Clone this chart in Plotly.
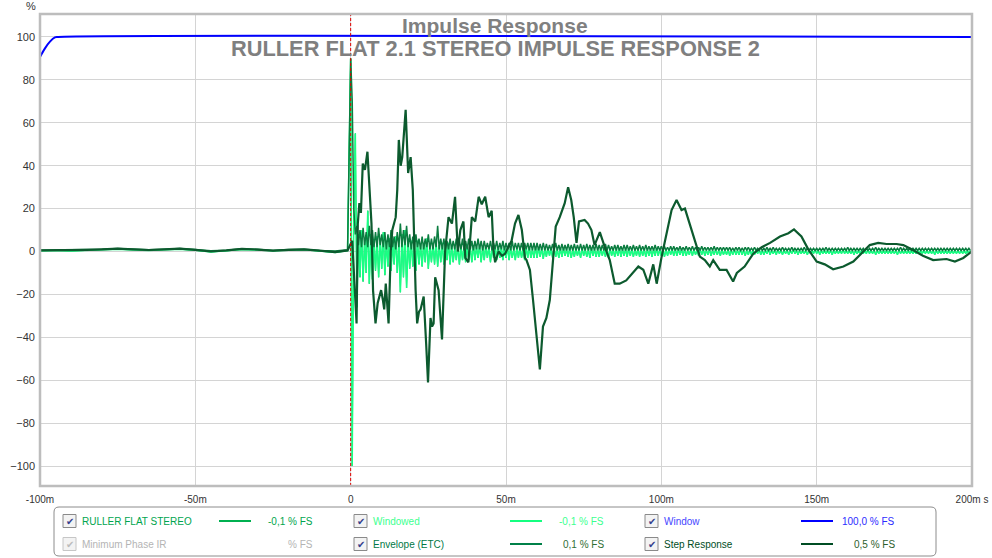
import plotly.graph_objects as go

# ---------------- data (time in ms, level in %FS) ----------------
pre_t = [-100, -95, -90, -85, -80, -75, -70, -65, -60, -55, -50, -45, -40, -35, -30, -25, -20, -15, -10, -5, -1]
imp_pre = [0.3, 0.5, 0.2, 0.6, 0.8, 1.0, 0.7, 0.5, 0.8, 1.0, 0.6, -0.2, 0.3, 0.9, 0.7, 0.3, 0.6, 0.8, 0.2, -0.5, 0.4]
env_pre = [0.6, 0.7, 0.6, 0.9, 1.1, 1.4, 1.1, 0.8, 1.1, 1.4, 0.9, 0.3, 0.6, 1.3, 1.0, 0.5, 0.9, 1.1, 0.5, 0.2, 0.8]
step_pre = [0.5, 0.5, 0.6, 0.8, 1.0, 1.3, 1.0, 0.7, 1.0, 1.3, 0.8, 0.0, 0.5, 1.2, 0.9, 0.4, 0.8, 1.0, 0.4, -0.3, 0.5]

# impulse / envelope samples every 0.5 ms from 0 to 199.5 ms
SAMPLE_START, SAMPLE_STEP = 0.0, 0.5

imp_post = [
    90, -100, 20, 55, -26, 8, -12, 10, -14, 6,
    -10, 19, -15, 8, -13, 5, -9, 7, -12, 6,
    -8, 9, -11, 5, -7, 6, -9, 4, -6, 7,
    -10, 5, -19, 8, -12, 10, -17, 6, -8, 5,
    -7, 4, -9, 5, -6, 3, -7, 4, -5, 6,
    -8, 3, -5, 4, -6, 5, -7, 3, -5, 4,
    -6, 3, -4, 4, -6, 3, -5, 2, -4, 3,
    -6, 3, -4, 2, -5, 3, -4, 2, -5, 3,
    -4, 2, -3, 3, -5, 2, -4, 3, -3, 2,
    -5, 2, -3, 3, -4, 2, -3, 2, -4, 2,
    -3, 2, -4, 2, -3, 1, -4, 2, -3, 2,
    -3, 1, -4, 2, -3, 2, -3, 1, -3, 2,
    -3, 2, -2.5, 1.5, -3.5, 1.5, -2.5, 2, -2, 1.5,
    -3, 1.5, -2.5, 1, -3, 1.5, -2.5, 1.5, -2, 1,
    -2.5, 1.5, -3, 1, -2.5, 1.5, -2, 1, -3, 1.5,
    -2, 1, -2.5, 1, -3, 1.5, -2, 1, -2.5, 1,
    -2.5, 1.5, -2, 1, -2.5, 1, -3, 1.5, -2, 1,
    -2.5, 1, -2, 1.5, -2.5, 1, -2, 1, -2.5, 1.5,
    -2, 1, -2.5, 1, -2, 1.5, -2.5, 1, -2, 1,
    -2.5, 1, -2, 1, -2.5, 1, -2, 1.5, -2, 1,
    -2, 1, -2.5, 1, -2, 1, -1.5, 1, -2, 1,
    -2, 1, -1.5, 1, -2, 1, -2, 0.5, -1.5, 1,
    -2, 1, -1.5, 0.5, -2, 1, -1.5, 1, -2, 0.5,
    -1.5, 1, -2, 0.5, -1.5, 1, -1.5, 0.5, -2, 1,
    -1.5, 0.5, -1.5, 1, -2, 0.5, -1.5, 1, -1.5, 0.5,
    -1.5, 1, -1.5, 0.5, -2, 0.5, -1.5, 1, -1.5, 0.5,
    -1.5, 0.5, -1, 1, -1.5, 0.5, -1.5, 0.5, -1, 1,
    -1.5, 0.5, -1, 0.5, -1.5, 1, -1, 0.5, -1.5, 0.5,
    -1, 0.5, -1.5, 0.5, -1, 1, -1, 0.5, -1.5, 0.5,
    -1, 0.5, -1, 0.5, -1.5, 0.5, -1, 0.5, -1, 1,
    -1, 0.5, -1.5, 0.5, -1, 0.5, -1, 0.5, -1, 0.5,
    -1.5, 0.5, -1, 0.5, -1, 0.5, -1, 1, -1, 0.5,
    -1, 0.5, -1, 0.5, -1.5, 0.5, -1, 0.5, -1, 0.5,
    -1, 0.5, -1, 1, -1, 0.5, -1, 0.5, -1.5, 0.5,
    -1, 0.5, -1, 0.5, -1, 0.5, -1, 0.5, -1, 0.5,
    -1, 0.5, -1.5, 0.5, -1, 0.5, -1, 0.5, -1, 0.5,
    -1, 0.5, -1, 0.5, -1, 0.5, -1, 0.5, -1, 0.5,
    -1, 0.5, -1, 0.5, -1, 0.5, -1.5, 0.5, -1, 0.5,
    -1, 0.5, -1, 0.5, -1, 0.5, -1, 0.5, -1, 0.5,
    -1, 0.5, -1, 0.5, -1, 0.5, -1, 0.5, -1, 0.5,
]
env_post = [
    90, 70, 20, 8, 12, 3, 10, 2, 11, 3,
    9, 2, 12, 3, 10, 2, 9, 2, 11, 3,
    8, 2, 9, 1, 8, 2, 10, 2, 7, 1,
    9, 2, 13, 2, 10, 3, 12, 2, 8, 1,
    7, 1, 8, 2, 6, 1, 7, 1, 6, 2,
    8, 1, 6, 1, 7, 2, 12, 1, 6, 1,
    6, 1, 5, 1, 6, 1, 5, 1, 6, 1,
    5, 1, 6, 0.5, 5, 1, 6, 1, 5, 0.5,
    5, 1, 6, 1, 5, 0.5, 5, 1, 4, 1,
    5, 0.5, 4, 1, 5, 0.5, 4, 1, 5, 0.5,
    4, 1, 4, 0.5, 5, 0.5, 4, 1, 4, 0.5,
    4, 0.5, 4, 1, 4, 0.5, 4, 0.5, 4, 0.5,
    4, 0.5, 3.5, 0.5, 4, 0.5, 3.5, 0.5, 3, 0.5,
    3.5, 0.5, 4, 0.5, 3, 0.5, 3.5, 0.5, 3, 0.5,
    3.5, 0.5, 3, 0.5, 3.5, 0.5, 3, 0.5, 3.5, 0.5,
    3, 0.5, 3.5, 0.5, 3, 0.5, 3, 0.5, 3.5, 0.5,
    3, 0.5, 3, 0.5, 3.5, 0.5, 3, 0.5, 2.5, 0.5,
    3, 0.5, 3, 0.5, 2.5, 0.5, 3, 0.5, 3, 0.5,
    2.5, 0.5, 3, 0.5, 2.5, 0.5, 3, 0.5, 2.5, 0.5,
    3, 0.5, 2.5, 0.5, 2.5, 0.5, 3, 0.5, 2.5, 0.5,
    2.5, 0.5, 2.5, 0.5, 2, 0.5, 2.5, 0.5, 2.5, 0.5,
    2, 0.5, 2.5, 0.5, 2, 0.5, 2.5, 0.5, 2, 0.5,
    2.5, 0.5, 2, 0.5, 2, 0.5, 2.5, 0.5, 2, 0.5,
    2, 0.5, 2, 0.5, 2.5, 0.5, 2, 0.5, 2, 0.5,
    2, 0.5, 2, 0.5, 2, 0.5, 1.5, 0.5, 2, 0.5,
    2, 0.5, 1.5, 0.5, 2, 0.5, 2, 0.5, 1.5, 0.5,
    2, 0.5, 1.5, 0.5, 2, 0.5, 1.5, 0.5, 2, 0.5,
    1.5, 0.5, 2, 0.5, 1.5, 0.5, 1.5, 0.5, 2, 0.5,
    1.5, 0.5, 1.5, 0.5, 2, 0.5, 1.5, 0.5, 1.5, 0.5,
    1.5, 0.5, 2, 0.5, 1.5, 0.5, 1.5, 0.5, 1.5, 0.5,
    1.5, 0.5, 1.5, 0.5, 1.5, 0.5, 2, 0.5, 1.5, 0.5,
    1.5, 0.5, 1.5, 0.5, 1.5, 0.5, 1.5, 0.5, 1.5, 0.5,
    2, 0.5, 1.5, 0.5, 1.5, 0.5, 1.5, 0.5, 1.5, 0.5,
    1.5, 0.5, 1.5, 0.5, 1.5, 0.5, 1.5, 0.5, 2, 0.5,
    1.5, 0.5, 1.5, 0.5, 1.5, 0.5, 1.5, 0.5, 1.5, 0.5,
    1.5, 0.5, 1.5, 0.5, 2, 0.5, 1.5, 0.5, 1.5, 0.5,
    1.5, 0.5, 1.5, 0.5, 1.5, 0.5, 1.5, 0.5, 1.5, 0.5,
    1.5, 0.5, 1.5, 0.5, 1.5, 0.5, 1.5, 0.5, 1.5, 0.5,
    1.5, 0.5, 1.5, 0.5, 1.5, 0.5, 1.5, 0.5, 1.5, 0.5,
    1.5, 0.5, 1.5, 0.5, 1.5, 0.5, 1.5, 0.5, 1.5, 0.5,
]

step_t = [0.5, 1.9, 2.3, 2.8, 3.3, 3.9, 4.6, 5.4, 5.8, 6.2, 6.7, 7.2, 8.0, 8.7, 9.8, 10.3, 10.8, 11.3, 12.2, 12.9, 13.4,
          14.5, 15.0, 15.5, 16.1, 16.6, 17.2, 17.7, 18.5, 19.3, 20.0, 20.3, 20.9, 21.4, 22.0, 22.5, 23.5, 24.3, 24.9, 25.7,
          26.2, 26.7, 27.2, 28.3, 28.8, 29.4, 30.4, 31.5, 32.6, 33.6, 34.5, 35.3, 36.3, 36.9, 37.9, 39.0, 40.1,
          41.2, 42.2, 43.3, 44.4, 45.4, 46.0, 46.5, 47.6, 48.7, 49.7, 51.8, 52.9, 54.0, 55.1, 56.1, 56.6,
          57.7, 58.7, 59.6, 60.9, 61.9, 63.0, 64.1, 65.2, 66.0, 67.3, 68.9, 70.0, 71.0, 71.8, 72.7, 73.5,
          75.3, 76.4, 77.5, 78.5, 80.2, 81.8, 83.4, 85.0, 86.6, 88.7, 90.9, 92.6, 94.2, 95.8, 97.4, 98.5,
          100.1, 101.7, 103.3, 104.9, 106.5, 107.6, 109.1, 110.7, 112.4, 114.0, 115.6, 116.7, 118.8, 121.0,
          123.1, 124.3, 126.8, 129.6, 132.3, 135.0, 138.2, 140.9, 142.7, 145.1, 147.3, 150.0, 152.6, 155.3,
          158.6, 161.8, 165.0, 167.1, 169.8, 172.5, 175.7, 177.9, 181.0, 184.2, 187.5, 191.8, 194.5, 197.2, 199.9]
step_v = [5, -33.5, 13, 22.6, 18, 41, 38, 46.5, 35, 25.5, 13, -18, -33.5, -24, -18, -22, -27, -15, -33.5, 0, 10,
          16, 28.7, 52, 40, 44, 58, 66, 36.6, 44, 28.7, 10, -18, -33.5, -28, -27, -21, -43, -61, -31,
          -35, -33.5, -12, -18, -28, -41, 0, 16, 13, 25.5, 0, 10, 14, -3, -5, 16, 14,
          25.5, 22, 25.5, 16, 19, 0, -5, 0, -2, -1, 5, 13, 17, 10, -3, -4,
          -8.6, -22.6, -35, -55, -35, -31, -22.6, -4, 11.6, 16, 22.5, 30, 24, 16, 4, 14,
          14.7, 13, 10, 3, 9, 2, -4, -15, -15, -13.5, -10, -7, -8.5, -15, -6, -15,
          -2.4, 8.5, 19.3, 24, 19.3, 20, 13, 5.4, -2.4, -4, -7, -4, -8.6, -8.6,
          -14, -10, -7, -1, 2, 4, 7, 8.5, 10.3, 7, 1, -4.7, -6, -8.3,
          -7, -4.7, 0, 3, 4, 3.5, 3.5, 3, 0.7, -2, -4, -3.5, -4.7, -3, 0]

window_t = [-100, -98.4, -96.8, -95.2, -94.2, 200]
window_v = [90.7, 94.7, 97.8, 99.8, 100, 100]

x_tickvals = [-100, -50, 0, 50, 100, 150, 200]
x_ticktext = ["-100m", "-50m", "0", "50m", "100m", "150m", "200m s"]
y_tickvals = [-100, -80, -60, -40, -20, 0, 20, 40, 60, 80, 100]

# ---------------- build series ----------------
post_t = [SAMPLE_START + i * SAMPLE_STEP for i in range(len(imp_post))]
imp_t = pre_t + post_t
imp_v = imp_pre + imp_post
env_v = env_pre + env_post
st_t = pre_t + step_t
st_v = step_pre + step_v

C_IMP = "#00b050"
C_WIN_D = "#1aff84"
C_ENV = "#0b7d40"
C_STEP = "#0c5a2e"
C_WINDOW = "#0000ff"

fig = go.Figure()
fig.add_trace(go.Scatter(x=imp_t, y=imp_v, mode="lines", line=dict(color=C_IMP, width=1)))
fig.add_trace(go.Scatter(x=imp_t, y=imp_v, mode="lines", line=dict(color=C_WIN_D, width=1.5)))
fig.add_trace(go.Scatter(x=imp_t, y=env_v, mode="lines", line=dict(color=C_ENV, width=1.5)))
fig.add_trace(go.Scatter(x=st_t, y=st_v, mode="lines", line=dict(color=C_STEP, width=2.2)))
fig.add_trace(go.Scatter(x=window_t, y=window_v, mode="lines", line=dict(color=C_WINDOW, width=2), line_shape="spline"))

W, H = 992, 558
L, R, T, B = 40, 20, 14, 72
PW, PH = W - L - R, H - T - B


def px(x):
    return (x - L) / PW


def py(y):
    return (H - B - y) / PH


shapes = []
annotations = []

# red cursor at t=0
shapes.append(dict(type="line", xref="x", yref="paper", x0=0, x1=0, y0=0, y1=1,
                   line=dict(color="#e00000", width=1, dash="3px,2px"), layer="above"))
# plot frame
shapes.append(dict(type="rect", xref="paper", yref="paper", x0=0, x1=1, y0=0, y1=1,
                   line=dict(color="#bdbdbd", width=2.5), layer="above"))

# titles
annotations.append(dict(text="Impulse Response", xref="paper", yref="paper", x=px(495), y=py(25.5),
                        xanchor="center", yanchor="middle", showarrow=False,
                        font=dict(family="Liberation Sans", size=21, color="#808080", weight="bold")))
annotations.append(dict(text="RULLER FLAT 2.1 STEREO IMPULSE RESPONSE 2", xref="paper", yref="paper",
                        x=px(495), y=py(48), xanchor="center", yanchor="middle", showarrow=False,
                        font=dict(family="Liberation Sans", size=21.8, color="#7f7f7f", weight="bold")))
annotations.append(dict(text="%", xref="paper", yref="paper", x=px(31), y=py(6), xanchor="center",
                        yanchor="middle", showarrow=False,
                        font=dict(family="Liberation Sans", size=11, color="#333333")))

# legend box (rounded)
lx0, lx1, ly0, ly1, rr = 54, 936, 507, 556, 5
path = (f"M {px(lx0 + rr)} {py(ly0)} L {px(lx1 - rr)} {py(ly0)} Q {px(lx1)} {py(ly0)} {px(lx1)} {py(ly0 + rr)} "
        f"L {px(lx1)} {py(ly1 - rr)} Q {px(lx1)} {py(ly1)} {px(lx1 - rr)} {py(ly1)} "
        f"L {px(lx0 + rr)} {py(ly1)} Q {px(lx0)} {py(ly1)} {px(lx0)} {py(ly1 - rr)} "
        f"L {px(lx0)} {py(ly0 + rr)} Q {px(lx0)} {py(ly0)} {px(lx0 + rr)} {py(ly0)} Z")
shapes.append(dict(type="path", xref="paper", yref="paper", path=path,
                   line=dict(color="#8c8c8c", width=1), fillcolor="rgba(0,0,0,0)"))

legend_items = [
    # (row_y, checkbox_x, label, label_color, line_color, value, value_color, enabled)
    (521, 63, "RULLER FLAT STEREO", "#00a54e", C_IMP, "-0,1 % FS", "#00a54e", True),
    (521, 354, "Windowed", "#3cff90", "#14ff80", "-0,1 % FS", "#3cff90", True),
    (521, 645, "Window", "#4646ff", C_WINDOW, "100,0 % FS", "#2c2cff", True),
    (544, 63, "Minimum Phase IR", "#b4b4b4", None, "% FS", "#b4b4b4", False),
    (544, 354, "Envelope (ETC)", "#007846", "#008048", "0,1 % FS", "#2f6e34", True),
    (544, 645, "Step Response", "#004d24", "#004d24", "0,5 % FS", "#2c5e2c", True),
]
for (ry, cx, lab, lcol, linecol, val, vcol, en) in legend_items:
    bc = "#8a8a8a" if en else "#c6c6c6"
    shapes.append(dict(type="rect", xref="paper", yref="paper", x0=px(cx), x1=px(cx + 13),
                       y0=py(ry - 6.5), y1=py(ry + 6.5), line=dict(color=bc, width=1),
                       fillcolor="#f3f3f3"))
    annotations.append(dict(text="✔", xref="paper", yref="paper", x=px(cx + 6.5), y=py(ry),
                            xanchor="center", yanchor="middle", showarrow=False,
                            font=dict(family="DejaVu Sans", size=10,
                                      color="#33408c" if en else "#bcbcbc")))
    annotations.append(dict(text=lab, xref="paper", yref="paper", x=px(cx + 17), y=py(ry),
                            xanchor="left", yanchor="middle", showarrow=False,
                            font=dict(family="Liberation Sans", size=10, color=lcol)))
    if linecol:
        shapes.append(dict(type="line", xref="paper", yref="paper", x0=px(cx + 156), x1=px(cx + 188),
                           y0=py(ry), y1=py(ry), line=dict(color=linecol, width=2)))
    annotations.append(dict(text=val, xref="paper", yref="paper", x=px(cx + 252), y=py(ry),
                            xanchor="right", yanchor="middle", showarrow=False,
                            font=dict(family="Liberation Sans", size=10, color=vcol)))

fig.update_layout(
    width=W, height=H,
    margin=dict(l=L, r=R, t=T, b=B, autoexpand=False),
    paper_bgcolor="white", plot_bgcolor="white",
    showlegend=False,
    shapes=shapes, annotations=annotations,
    xaxis=dict(range=[-100, 200], tickvals=x_tickvals, ticktext=x_ticktext, showgrid=True,
               gridcolor="#d4d4d4", gridwidth=1, zeroline=False, showline=False, ticks="",
               tickfont=dict(family="Liberation Sans", size=10, color="#333333"),
               ticklabelstandoff=6, fixedrange=True, automargin=False),
    yaxis=dict(range=[-109.3, 110.7], tickvals=y_tickvals, showgrid=True, gridcolor="#d4d4d4",
               gridwidth=1, zeroline=False, showline=False, ticks="",
               tickfont=dict(family="Liberation Sans", size=11, color="#333333"),
               ticklabelstandoff=4, fixedrange=True, automargin=False),
)

fig.write_html("out.html", config={"displayModeBar": False},
               post_script="document.body.style.margin='0';document.body.style.overflow='hidden';")
